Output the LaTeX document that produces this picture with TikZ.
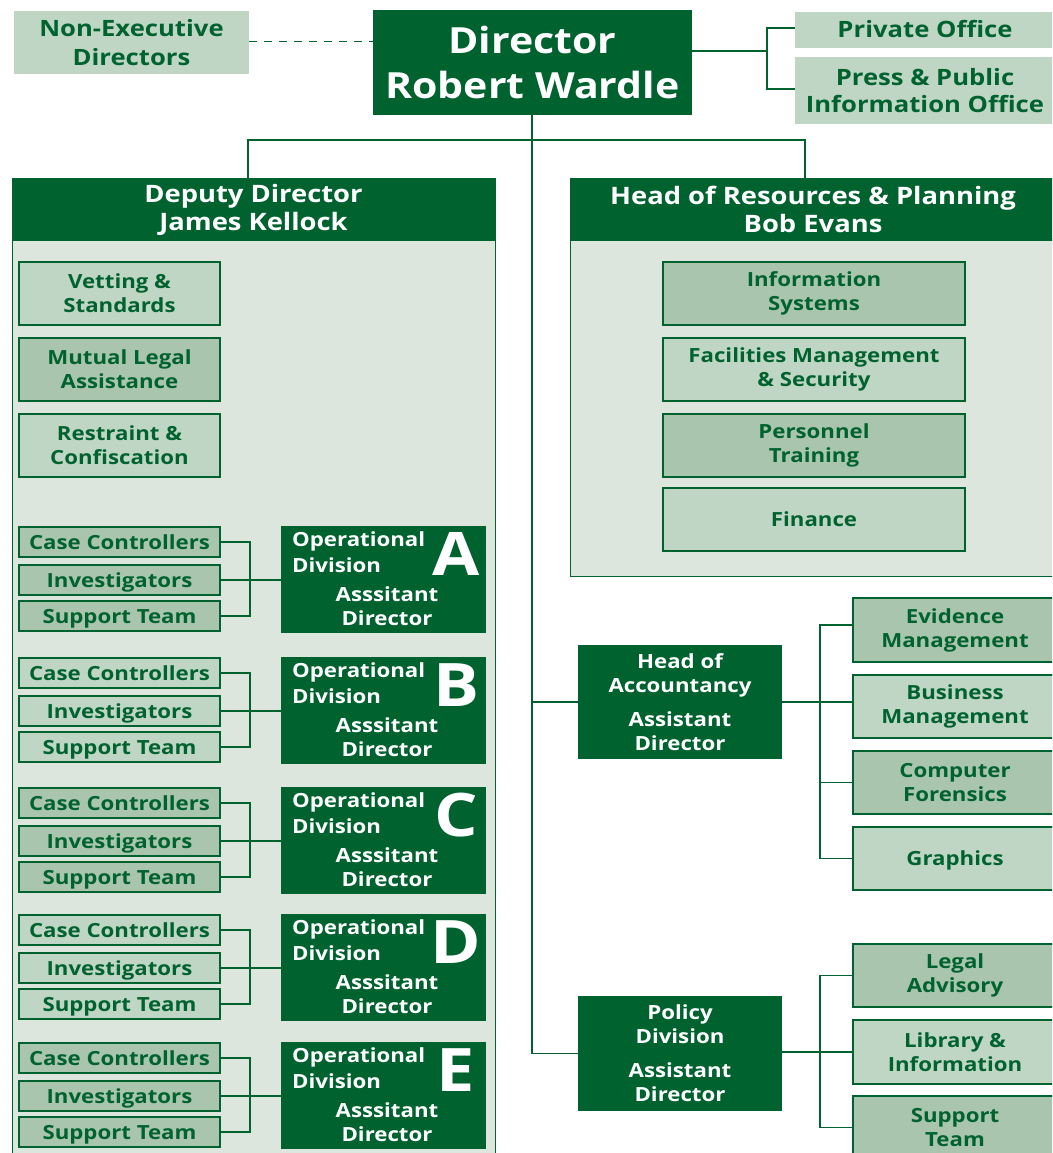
\documentclass[tikz,border=0pt]{standalone}
\usepackage{fontspec}
\setmainfont{Open Sans}[FakeStretch=1.14]
\definecolor{dkgreen}{HTML}{00632F}
\definecolor{litefill}{HTML}{C0D6C4}
\definecolor{midfill}{HTML}{A9C5AE}
\definecolor{panelfill}{HTML}{DCE6DC}
\newcommand{\fsz}[2]{\fontsize{#1}{#2}\selectfont\bfseries}
\tikzset{
  base/.style={rectangle, inner sep=0pt, align=center},
  darkbox/.style={base, fill=dkgreen, text=white},
  litebox/.style={base, fill=litefill, draw=dkgreen, line width=1.2pt, text=dkgreen},
  midbox/.style={base, fill=midfill, draw=dkgreen, line width=1.2pt, text=dkgreen},
  plainbox/.style={base, fill=litefill, text=dkgreen},
  link/.style={draw=dkgreen, line width=1.2pt},
  smalltxt/.style={font=\fsz{19.5}{24}, text height=14pt, text depth=0pt},
  optxt/.style={inner sep=0pt, text=white, font=\fsz{19.5}{24}},
}
\begin{document}
\begin{tikzpicture}[x=1pt, y=-1pt]
\useasboundingbox (0,0) rectangle (1052,1153);
\clip (0,0) rectangle (1052,1153);
\fill[white] (0,0) rectangle (1052,1153);

% ---- top level ----
\node[darkbox, minimum width=319, minimum height=105, font=\fsz{36}{45}] (dir) at (532.5,62.5) {Director\\Robert Wardle};
\node[plainbox, minimum width=235, minimum height=63, font=\fsz{22.5}{29}] (ned) at (131.5,42.5) {Non-Executive\\Directors};
\node[plainbox, minimum width=260, minimum height=36, font=\fsz{22.5}{27}, text height=16pt, text depth=0pt] (po) at (925,30) {Private Office};
\node[plainbox, minimum width=260, minimum height=67, font=\fsz{22.5}{27}] (ppio) at (925,90.5) {Press \& Public\\Information Office};

\draw[link, line width=0.8pt, dash pattern=on 8pt off 7pt] (ned.east |- 0,41) -- (dir.west |- 0,41);
\coordinate (pobar) at (767,51);
\draw[link] (dir.east |- pobar) -- (pobar);
\draw[link] (po.west |- 0,28) -| (pobar) |- (ppio.west |- 0,89);

% ---- deputy director panel ----
\node[base, fill=panelfill, draw=dkgreen, line width=1.2pt, minimum width=483, minimum height=930, anchor=north west] (deppanel) at (12,238) {};
\node[darkbox, minimum width=484, minimum height=63, font=\fsz{24}{28}] (deph) at (253.5,209.5) {Deputy Director\\James Kellock};

\node[litebox, minimum width=201, minimum height=63, font=\fsz{19.5}{24}] (vet) at (119.5,293.5) {Vetting \&\\Standards};
\node[midbox, minimum width=201, minimum height=63, font=\fsz{19.5}{24}] (mla) at (119.5,369.5) {Mutual Legal\\Assistance};
\node[litebox, minimum width=201, minimum height=63, font=\fsz{19.5}{24}] (rc) at (119.5,445.5) {Restraint \&\\Confiscation};

\foreach \L/\t/\s in {A/526/midbox, B/657/litebox, C/787/midbox, D/914/litebox, E/1042/midbox}{
  \node[darkbox, minimum width=205, minimum height=107] (op\L) at (383.5,{\t+53.5}) {};
  \node[optxt, anchor=west] (opa\L) at (292,{\t+15}) {Operational};
  \node[optxt, anchor=west] (opb\L) at (292,{\t+39}) {Division};
  \node[inner sep=0pt, text=white, font=\fsz{60}{60}] (opl\L) at (456,{\t+28}) {\L};
  \node[optxt] (opc\L) at (387,{\t+68}) {Asssitant};
  \node[optxt] (opd\L) at (387,{\t+92}) {Director};
  \node[\s, smalltxt, minimum width=201, minimum height=30] (cc\L) at (119.5,{\t+16}) {Case Controllers};
  \node[\s, smalltxt, minimum width=201, minimum height=30] (inv\L) at (119.5,{\t+54}) {Investigators};
  \node[\s, smalltxt, minimum width=201, minimum height=30] (st\L) at (119.5,{\t+90}) {Support Team};
  \coordinate (bar\L) at (250,{\t+54});
  \draw[link] (cc\L.east) -| (bar\L) |- (st\L.east);
  \draw[link] (inv\L.east) -- (op\L.west |- inv\L.east);
}

% ---- resources & planning panel ----
\node[base, fill=panelfill, draw=dkgreen, line width=1.2pt, minimum width=500, minimum height=338, anchor=north west] (respanel) at (570,238) {};
\node[darkbox, minimum width=486, minimum height=63, font=\fsz{24}{28}] (resh) at (813,209.5) {Head of Resources \& Planning\\Bob Evans};

\node[midbox, minimum width=302, minimum height=63, font=\fsz{19.5}{24}] (is) at (814,293.5) {Information\\Systems};
\node[litebox, minimum width=302, minimum height=63, font=\fsz{19.5}{24}] (fm) at (814,369.5) {Facilities Management\\\& Security};
\node[midbox, minimum width=302, minimum height=63, font=\fsz{19.5}{24}] (pt) at (814,445.5) {Personnel\\Training};
\node[litebox, minimum width=302, minimum height=63, smalltxt] (fin) at (814,519.5) {Finance};

% ---- accountancy ----
\node[darkbox, minimum width=204, minimum height=114, font=\fsz{19.5}{24}] (acc) at (680,702) {Head of\\Accountancy\\[10pt]Assistant\\Director};
\node[midbox, minimum width=204, minimum height=64, font=\fsz{19.5}{24}] (ev) at (955,630) {Evidence\\Management};
\node[litebox, minimum width=204, minimum height=63, font=\fsz{19.5}{24}] (bus) at (955,706.5) {Business\\Management};
\node[midbox, minimum width=204, minimum height=63, font=\fsz{19.5}{24}] (cf) at (955,782.5) {Computer\\Forensics};
\node[litebox, minimum width=204, minimum height=63, smalltxt] (gr) at (955,858.5) {Graphics};

\coordinate (accbar) at (820,701);
\draw[link] (acc.east) -- (acc.east -| bus.west);
\draw[link] ([yshift=5pt]ev.west) -| (accbar) |- (gr.west);
\draw[link] (cf.west) -- (accbar |- cf.west);

% ---- policy ----
\node[darkbox, minimum width=204, minimum height=115, font=\fsz{19.5}{24}] (pol) at (680,1053.5) {Policy\\Division\\[10pt]Assistant\\Director};
\node[midbox, minimum width=204, minimum height=63, font=\fsz{19.5}{24}] (leg) at (955,975.5) {Legal\\Advisory};
\node[litebox, minimum width=204, minimum height=64, font=\fsz{19.5}{24}] (lib) at (955,1052) {Library \&\\Information};
\node[midbox, minimum width=204, minimum height=63, font=\fsz{19.5}{24}] (sup) at (955,1127.5) {Support\\Team};

\coordinate (polbar) at (820,1052);
\draw[link] (pol.east |- polbar) -- (lib.west);
\draw[link] (leg.west) -| (polbar) |- (sup.west);

% ---- main trunk ----
\coordinate (split) at (532,140);
\draw[link] (dir.south -| split) -- (split |- pol.west) -- (pol.west);
\draw[link] (split |- acc.west) -- (acc.west);
\draw[link] ([xshift=-5.5pt]deph.north) |- (split) -| ([xshift=-8pt]resh.north);
\end{tikzpicture}
\end{document}
